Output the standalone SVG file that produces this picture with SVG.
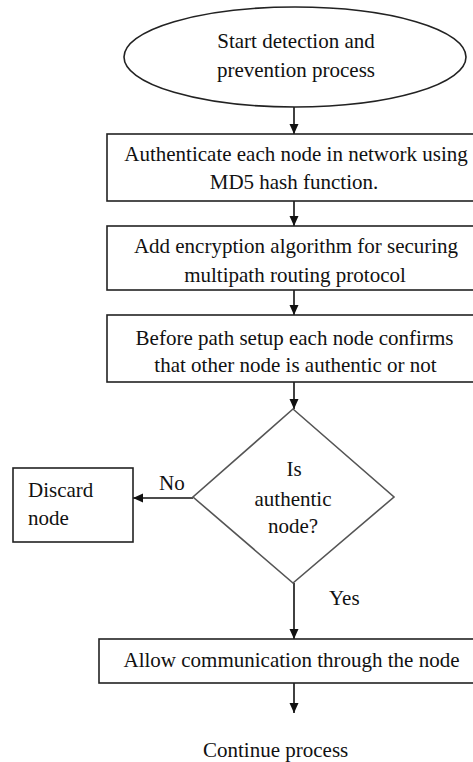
<svg xmlns="http://www.w3.org/2000/svg" width="473" height="762" viewBox="0 0 473 762">
<style>
  .shape { fill: #ffffff; stroke: #222222; stroke-width: 1.6; }
  .diam { fill: #ffffff; stroke: #555555; stroke-width: 1.6; }
  .t { font-family: "Liberation Serif", "Times New Roman", serif; font-size: 21px; fill: #111111; }
  .c { text-anchor: middle; }
  .conn { stroke: #111111; stroke-width: 1.6; fill: none; marker-end: url(#ah); }
</style>
<defs>
  <marker id="ah" markerWidth="10" markerHeight="10" refX="10" refY="5" orient="auto" markerUnits="userSpaceOnUse">
    <path d="M0,0.5 L10,5 L0,9.5 Z" fill="#111111"/>
  </marker>
</defs>
<rect width="473" height="762" fill="#ffffff"/>

<g id="connectors">
  <line class="conn" x1="294" y1="107" x2="294" y2="134"/>
  <line class="conn" x1="294" y1="201" x2="294" y2="226"/>
  <line class="conn" x1="294" y1="290" x2="294" y2="315"/>
  <line class="conn" x1="294" y1="382" x2="294" y2="409"/>
  <line class="conn" x1="193" y1="498" x2="133" y2="498"/>
  <line class="conn" x1="294" y1="583" x2="294" y2="639"/>
  <line class="conn" x1="294" y1="683" x2="294" y2="713"/>
  <text class="t" x="159" y="490">No</text>
  <text class="t" x="329" y="605">Yes</text>
</g>

<g id="start">
  <ellipse class="shape" cx="295" cy="57" rx="171" ry="50"/>
  <text class="t c" x="296" y="48">Start detection and</text>
  <text class="t c" x="296" y="77">prevention process</text>
</g>

<g id="authenticate">
  <rect class="shape" x="107" y="134" width="370" height="67"/>
  <text class="t c" x="296" y="161">Authenticate each node in network using</text>
  <text class="t c" x="294" y="189">MD5 hash function.</text>
</g>

<g id="encryption">
  <rect class="shape" x="107" y="226" width="370" height="64"/>
  <text class="t c" x="296" y="253">Add encryption algorithm for securing</text>
  <text class="t c" x="295" y="282">multipath routing protocol</text>
</g>

<g id="confirm">
  <rect class="shape" x="107" y="315" width="370" height="67"/>
  <text class="t c" x="294.5" y="345">Before path setup each node confirms</text>
  <text class="t c" x="295.5" y="372">that other node is authentic or not</text>
</g>

<g id="decision">
  <polygon class="diam" points="293,409 394,497 293,583 193,497"/>
  <text class="t c" x="294" y="476">Is</text>
  <text class="t c" x="293" y="506">authentic</text>
  <text class="t c" x="293" y="533">node?</text>
</g>

<g id="discard">
  <rect class="shape" x="13" y="468" width="120" height="74"/>
  <text class="t" x="28" y="497">Discard</text>
  <text class="t" x="28" y="525">node</text>
</g>

<g id="allow">
  <rect class="shape" x="99" y="639" width="378" height="44"/>
  <text class="t c" x="291.5" y="667">Allow communication through the node</text>
</g>

<g id="continue">
  <text class="t" x="203" y="757">Continue process</text>
</g>
</svg>
